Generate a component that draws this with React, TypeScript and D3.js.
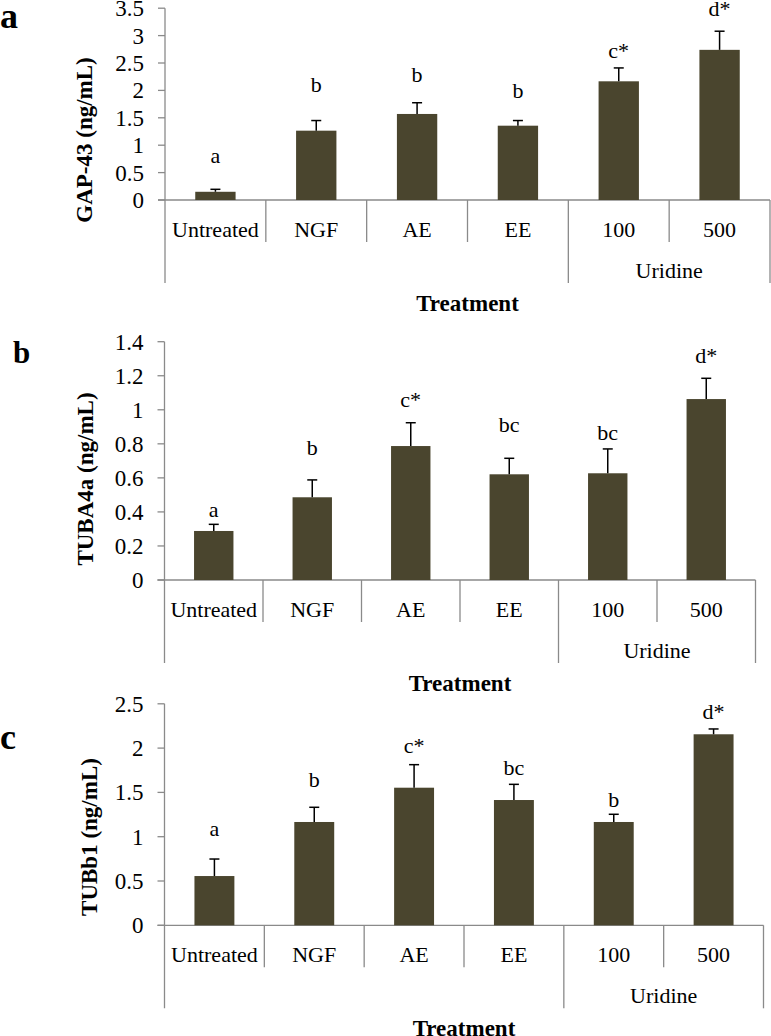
import React from "react";
import * as d3 from "d3";

// ---------- data ----------
const categories = ["Untreated", "NGF", "AE", "EE", "100", "500"];
const groupLabel = "Uridine";
const xTitle = "Treatment";

const gapMeans = [0.15, 1.265, 1.57, 1.356, 2.166, 2.74];
const gapErr = [0.045, 0.185, 0.205, 0.094, 0.244, 0.34];
const gapLetters = ["a", "b", "b", "b", "c*", "d*"];
const gapLetterY = [0.67, 1.975, 2.16, 1.866, 2.6, 3.36];
const gapTicks = [0, 0.5, 1, 1.5, 2, 2.5, 3, 3.5];

const tubaMeans = [0.288, 0.486, 0.787, 0.621, 0.627, 1.063];
const tubaErr = [0.039, 0.102, 0.137, 0.094, 0.143, 0.122];
const tubaLetters = ["a", "b", "c*", "bc", "bc", "d*"];
const tubaLetterY = [0.372, 0.734, 1.015, 0.871, 0.823, 1.273];
const tubaTicks = [0, 0.2, 0.4, 0.6, 0.8, 1, 1.2, 1.4];

const tubbMeans = [0.556, 1.166, 1.553, 1.414, 1.166, 2.156];
const tubbErr = [0.192, 0.166, 0.26, 0.177, 0.087, 0.06];
const tubbLetters = ["a", "b", "c*", "bc", "b", "d*"];
const tubbLetterY = [1.011, 1.565, 1.94, 1.697, 1.332, 2.325];
const tubbTicks = [0, 0.5, 1, 1.5, 2, 2.5];

// ---------- layout ----------
const panels = [
  {
    tag: "a", title: "GAP-43 (ng/mL)", means: gapMeans, err: gapErr, letters: gapLetters, letterY: gapLetterY, ticks: gapTicks,
    x0: 165, x1: 770, yZero: 200, yTop: 8.2, titleX: 92, titleY: 140, tagX: 0, tagY: 28, tagSize: 36,
  },
  {
    tag: "b", title: "TUBA4a (ng/mL)", means: tubaMeans, err: tubaErr, letters: tubaLetters, letterY: tubaLetterY, ticks: tubaTicks,
    x0: 164.5, x1: 755.5, yZero: 580, yTop: 341.7, titleX: 93, titleY: 479, tagX: 13, tagY: 363, tagSize: 31,
  },
  {
    tag: "c", title: "TUBb1 (ng/mL)", means: tubbMeans, err: tubbErr, letters: tubbLetters, letterY: tubbLetterY, ticks: tubbTicks,
    x0: 164.5, x1: 763.5, yZero: 925.3, yTop: 703.8, titleX: 97, titleY: 837, tagX: 0, tagY: 749, tagSize: 36,
  },
];

const FONT = "'Liberation Serif', 'Times New Roman', serif";
const AXIS = "#8a8a8a";
const BAR = "#4a452e";

function Panel({ p }: { p: any }) {
  const x = d3.scaleBand<string>().domain(categories).range([p.x0, p.x1]).paddingInner(0.6).paddingOuter(0.3);
  const y = d3.scaleLinear().domain([0, p.ticks[p.ticks.length - 1]]).range([p.yZero, p.yTop]);
  const step = x.step();
  const shortBottom = p.yZero + 42;
  const longBottom = p.yZero + 83;
  const sepIdx = d3.range(1, categories.length + 1);
  const groupStart = 4;
  const fmt = (v: number) => String(+v.toFixed(2));
  return (
    <g>
      <text x={p.tagX} y={p.tagY} fontFamily={FONT} fontWeight="bold" fontSize={p.tagSize}>{p.tag}</text>
      <text
        transform={`translate(${p.titleX},${p.titleY}) rotate(-90)`}
        textAnchor="middle" fontFamily={FONT} fontWeight="bold" fontSize={23}
      >{p.title}</text>
      {/* y axis */}
      <line x1={p.x0} x2={p.x0} y1={p.yTop} y2={longBottom} stroke={AXIS} strokeWidth={1.3} />
      {p.ticks.map((t: number) => (
        <g key={t}>
          <line x1={p.x0 - 7} x2={p.x0} y1={y(t)} y2={y(t)} stroke={AXIS} strokeWidth={1.3} />
          <text x={p.x0 - 21} y={y(t)} dy="0.35em" textAnchor="end" fontFamily={FONT} fontSize={23}>{fmt(t)}</text>
        </g>
      ))}
      {/* x axis */}
      <line x1={p.x0 - 7} x2={p.x1} y1={p.yZero} y2={p.yZero} stroke={AXIS} strokeWidth={1.3} />
      {sepIdx.map((i) => {
        const sx = p.x0 + i * step;
        const long = i === groupStart || i === categories.length;
        return <line key={i} x1={sx} x2={sx} y1={p.yZero} y2={long ? longBottom : shortBottom} stroke={AXIS} strokeWidth={1.3} />;
      })}
      {/* bars */}
      {categories.map((c, i) => {
        const bx = x(c)!;
        const cx = bx + x.bandwidth() / 2;
        const top = y(p.means[i]);
        const et = y(p.means[i] + p.err[i]);
        return (
          <g key={c}>
            <rect x={bx} y={top} width={x.bandwidth()} height={p.yZero - top} fill={BAR} />
            <line x1={cx} x2={cx} y1={top} y2={et} stroke="#000" strokeWidth={1.5} />
            <line x1={cx - 5} x2={cx + 5} y1={et} y2={et} stroke="#000" strokeWidth={1.5} />
            <text x={cx} y={y(p.letterY[i])} textAnchor="middle" fontFamily={FONT} fontSize={22}>{p.letters[i]}</text>
            <text x={cx} y={p.yZero + 37} textAnchor="middle" fontFamily={FONT} fontSize={22}>{c}</text>
          </g>
        );
      })}
      <text x={p.x0 + step * 5} y={p.yZero + 78} textAnchor="middle" fontFamily={FONT} fontSize={22}>{groupLabel}</text>
      <text x={(p.x0 + p.x1) / 2} y={p.yZero + 111} textAnchor="middle" fontFamily={FONT} fontWeight="bold" fontSize={23}>{xTitle}</text>
    </g>
  );
}

export default function App() {
  return (
    <svg width={771} height={1036} style={{ position: "absolute", left: 0, top: 0, background: "#fff" }}>
      <rect width={771} height={1036} fill="#fff" />
      {panels.map((p) => <Panel key={p.tag} p={p} />)}
    </svg>
  );
}
